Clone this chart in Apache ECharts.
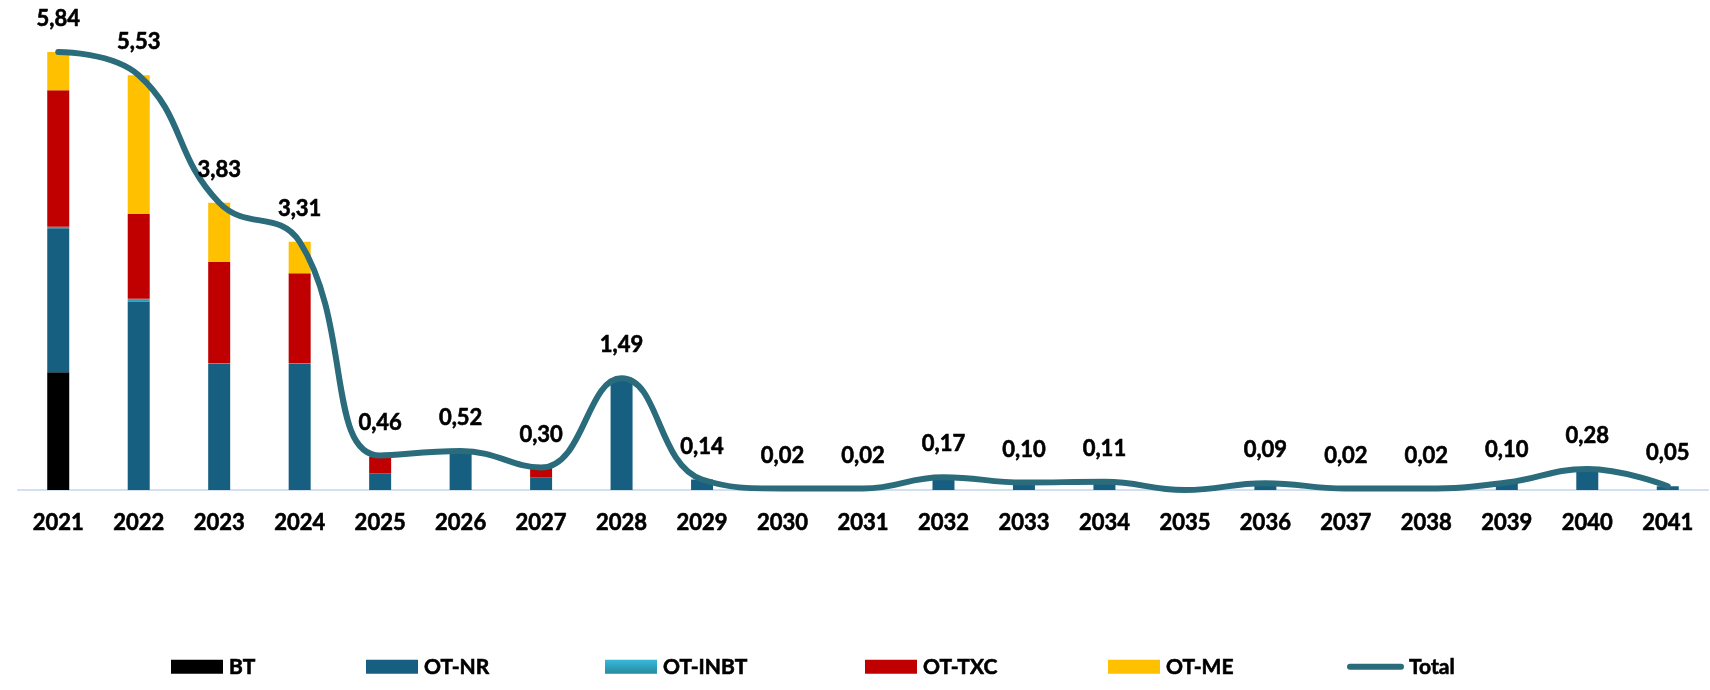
<!DOCTYPE html>
<html>
<head>
<meta charset="utf-8">
<script src="https://cdn.jsdelivr.net/npm/echarts@6/dist/echarts.min.js"></script>
<style>
  html, body { margin: 0; padding: 0; background: #fff; }
  #chart { width: 1710px; height: 690px; }
</style>
</head>
<body>
<div id="chart"></div>
<script>
const years = ['2021', '2022', '2023', '2024', '2025', '2026', '2027', '2028', '2029', '2030',
  '2031', '2032', '2033', '2034', '2035', '2036', '2037', '2038', '2039', '2040', '2041'];

const bt   = [1.57, 0, 0, 0, 0, 0, 0, 0, 0, 0, 0, 0, 0, 0, 0, 0, 0, 0, 0, 0, 0];
const otNr = [1.92, 2.51, 1.68, 1.68, 0.22, 0.52, 0.17, 1.49, 0.14, 0.02, 0.02, 0.17, 0.10, 0.11, 0, 0.09, 0.02, 0.02, 0.10, 0.28, 0.05];
const otInbt = [0.02, 0.04, 0.01, 0.01, 0, 0, 0, 0, 0, 0, 0, 0, 0, 0, 0, 0, 0, 0, 0, 0, 0];
const otTxc = [1.82, 1.13, 1.35, 1.20, 0.22, 0, 0.13, 0, 0, 0, 0, 0, 0, 0, 0, 0, 0, 0, 0, 0, 0];
const otMe = [0.51, 1.85, 0.79, 0.42, 0.02, 0, 0, 0, 0, 0, 0, 0, 0, 0, 0, 0, 0, 0, 0, 0, 0];
const total = [5.84, 5.53, 3.83, 3.31, 0.46, 0.52, 0.30, 1.49, 0.14, 0.02, 0.02, 0.17, 0.10, 0.11, 0, 0.09, 0.02, 0.02, 0.10, 0.28, 0.05];

const font = 'Lato, "Open Sans", sans-serif';
const colors = {
  BT: '#000000',
  'OT-NR': '#175f80',
  'OT-INBT': '#2fa8c9',
  'OT-TXC': '#c00000',
  'OT-ME': '#ffc000',
  Total: '#2a6b7c'
};

// bold text a touch heavier, closer to the original's Calibri Bold
const heavy = { color: '#000', fontWeight: 'bold', fontFamily: font, textBorderColor: '#000', textBorderWidth: 0.6 };

const chart = echarts.init(document.getElementById('chart'));

// one legend per item so each sits where it does in the original
const legendLefts = [166, 361, 600, 860, 1103, 1342];
const legendNames = ['BT', 'OT-NR', 'OT-INBT', 'OT-TXC', 'OT-ME', 'Total'];
const legends = legendNames.map((name, i) => {
  const isLine = name === 'Total';
  return {
    left: legendLefts[i],
    top: 651,
    itemWidth: isLine ? 57 : 52,
    itemHeight: isLine ? 6 : 14,
    itemGap: 0,
    data: [isLine
      ? { name, icon: 'path://M3,0 H54 A3,3 0 0 1 54,6 H3 A3,3 0 0 1 3,0 Z', itemStyle: { color: colors.Total } }
      : { name, icon: 'rect' }],
    textStyle: Object.assign({ fontSize: 21, padding: [0, 0, 0, isLine ? 0 : 1] }, heavy),
    selectedMode: false
  };
});

function barSeries(name, data, extra) {
  return Object.assign({
    name,
    type: 'bar',
    stack: 'a',
    barWidth: 22,
    data,
    itemStyle: { color: colors[name] },
    emphasis: { disabled: true }
  }, extra || {});
}

const option = {
  animation: false,
  grid: { left: 18, right: 2, top: 40, bottom: 200 },
  legend: legends,
  xAxis: {
    type: 'category',
    data: years,
    axisTick: { show: false },
    axisLine: { lineStyle: { color: '#d3e0ef', width: 2 } },
    axisLabel: Object.assign({ fontSize: 22, margin: 22 }, heavy)
  },
  yAxis: {
    type: 'value',
    min: 0,
    max: 6,
    show: false,
    splitLine: { show: false }
  },
  series: [
    barSeries('BT', bt),
    barSeries('OT-NR', otNr),
    barSeries('OT-INBT', otInbt, {
      itemStyle: {
        color: new echarts.graphic.LinearGradient(0, 0, 0, 1, [
          { offset: 0, color: '#38b8dc' },
          { offset: 1, color: '#268a9f' }
        ])
      }
    }),
    barSeries('OT-TXC', otTxc),
    barSeries('OT-ME', otMe),
    {
      name: 'Total',
      type: 'line',
      data: total,
      smooth: 0.45,
      symbol: 'circle',
      symbolSize: 0,
      showSymbol: true,
      lineStyle: { color: colors.Total, width: 6, cap: 'round' },
      itemStyle: { color: colors.Total },
      z: 5,
      label: Object.assign({
        show: true,
        position: 'top',
        distance: 22,
        fontSize: 22,
        formatter: p => p.value ? p.value.toFixed(2).replace('.', ',') : ''
      }, heavy),
      emphasis: { disabled: true }
    }
  ]
};

chart.setOption(option);
</script>
</body>
</html>
